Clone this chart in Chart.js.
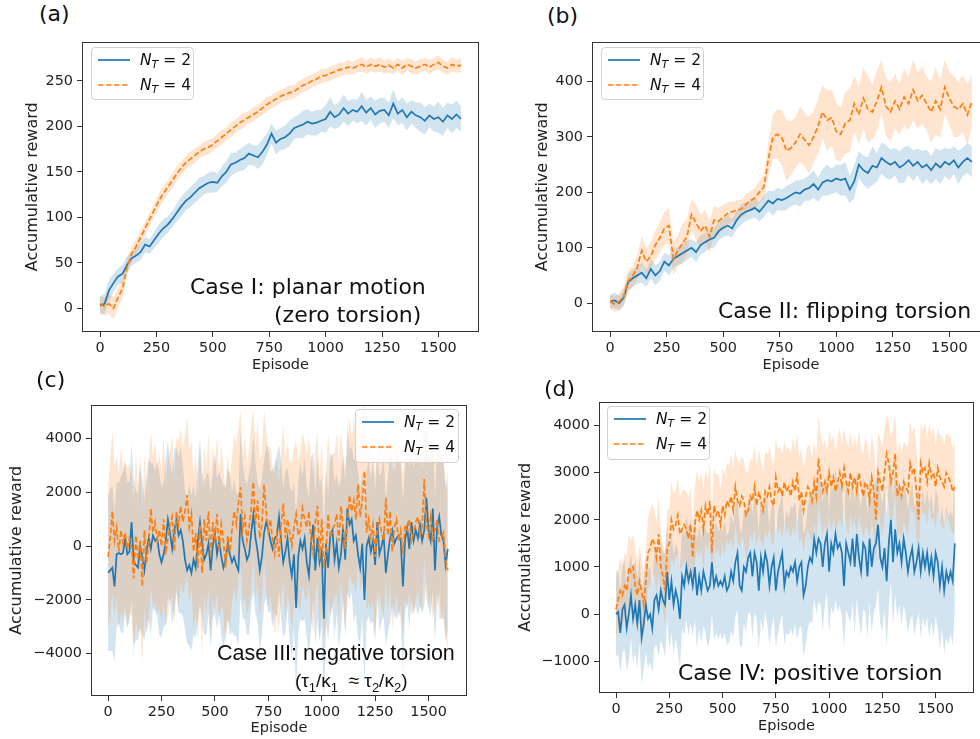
<!DOCTYPE html>
<html>
<head>
<meta charset="utf-8">
<script src="https://cdn.jsdelivr.net/npm/chart.js"></script>
<style>
  html, body { margin:0; padding:0; background:#fff; width:980px; height:739px; overflow:hidden; }
  body { position:relative; font-family:'DejaVu Sans', sans-serif; color:#111; }
  canvas { position:absolute; }
  .lbl { position:absolute; white-space:nowrap; line-height:26px; }
  .leg { position:absolute; box-sizing:border-box; border:1px solid #d0d0d0; border-radius:4px; background:rgba(255,255,255,0.85); }
  .leg .row { position:absolute; left:0; height:20px; }
  .leg svg { position:absolute; left:5px; top:0; }
  .leg .t { position:absolute; left:48px; top:0; line-height:20px; font-size:15.5px; white-space:nowrap; color:#111; }
  .leg .t i { font-style:italic; }
  .leg .t sub { font-size:11px; vertical-align:-3px; line-height:0; font-style:italic; }
</style>
</head>
<body>
<canvas id="ca" width="466" height="345" style="left:23px;top:29px"></canvas>
<canvas id="cb" width="467" height="345" style="left:533px;top:29px"></canvas>
<canvas id="cc" width="470" height="345" style="left:7px;top:392px"></canvas>
<canvas id="cd" width="468" height="346" style="left:516px;top:389px"></canvas>

<div class="lbl" style="left:39px;top:1px;font-size:22px">(a)</div>
<div class="lbl" style="left:547px;top:3px;font-size:22px">(b)</div>
<div class="lbl" style="left:36px;top:367px;font-size:22px">(c)</div>
<div class="lbl" style="left:544px;top:376px;font-size:22px">(d)</div>

<div class="lbl" style="left:190px;top:274px;font-size:22px">Case I: planar motion</div>
<div class="lbl" style="left:274px;top:302px;font-size:22px">(zero torsion)</div>
<div class="lbl" style="left:718px;top:298px;font-size:22px">Case II: flipping torsion</div>
<div class="lbl" style="left:217px;top:640px;font-size:21.5px;font-family:'Liberation Sans',sans-serif">Case III: negative torsion</div>
<div class="lbl" style="left:295px;top:668px;font-size:19px;font-family:'Liberation Sans',sans-serif">(τ<sub style="font-size:13px">1</sub>/κ<sub style="font-size:13px">1</sub>&nbsp; ≈ τ<sub style="font-size:13px">2</sub>/κ<sub style="font-size:13px">2</sub>)</div>
<div class="lbl" style="left:678px;top:660px;font-size:22px">Case IV: positive torsion</div>

<div id="legends"></div>

<script>
// ---------------- DATA ----------------
// episodes (x categories)
const episodesAB = Array.from({length: 81}, (_, i) => i * 20);   // 0..1600
const episodesCD = Array.from({length: 160}, (_, i) => i * 10);  // 0..1590
const seriesNames = ['N_T = 2', 'N_T = 4'];

const xTickValues = [0, 250, 500, 750, 1000, 1250, 1500];
const yTicksA = [0, 50, 100, 150, 200, 250];
const yTicksB = [0, 100, 200, 300, 400];
const yTicksC = [-4000, -2000, 0, 2000, 4000];
const yTicksD = [-1000, 0, 1000, 2000, 3000, 4000];

// Panel (a) planar motion
const aMean2 = [3,5,20,28,35,38,48,55,58,62,
  70,68,75,82,88,92,98,105,112,118,
  122,127,132,135,138,139,138,145,150,158,
  160,163,165,170,168,166,172,180,192,182,
  186,188,192,198,200,202,205,203,204,206,
  208,216,210,213,220,214,218,216,222,215,
  220,213,217,218,212,225,214,218,210,216,
  212,210,206,212,208,210,205,212,208,213,
  208];
const aSd2 = [10,11,12,10,9,10,9,8,8,9,
  9,8,9,10,10,9,9,10,11,10,
  11,11,12,10,11,12,10,11,12,13,
  11,12,13,12,11,13,14,12,11,13,
  12,13,14,12,13,15,14,13,14,12,
  15,16,13,14,15,14,12,13,16,14,
  13,15,14,13,14,16,13,14,15,13,
  14,16,15,13,14,17,15,14,16,15,
  14];
const aMean4 = [5,2,5,0,12,22,45,60,68,78,
  88,98,108,118,126,133,140,148,154,160,
  164,168,172,175,177,180,184,188,192,196,
  200,204,207,210,213,216,220,224,227,230,
  233,235,237,238,242,245,247,250,252,255,
  256,258,260,262,263,265,264,266,268,265,
  268,266,268,265,267,264,268,264,268,266,
  264,266,268,265,268,270,266,264,268,266,
  267];
const aSd4 = [9,10,11,12,11,10,9,8,8,8,
  8,7,7,8,8,7,8,8,7,8,
  8,8,7,8,8,7,8,8,7,8,
  7,8,8,7,8,7,8,8,7,8,
  7,7,8,7,8,7,8,7,7,8,
  7,8,7,8,7,8,7,7,8,7,
  8,7,8,7,8,7,7,8,7,8,
  7,8,7,8,7,8,7,7,8,7,
  8];

// Panel (b) flipping torsion
const bMean2 = [3,5,0,10,38,45,50,55,45,62,
  50,58,75,68,80,85,90,95,100,92,
  105,110,115,118,130,136,140,135,150,160,
  165,168,172,165,175,185,180,188,186,190,
  195,200,198,205,208,215,205,218,222,220,
  225,222,225,205,220,250,240,235,248,245,
  262,255,250,255,245,250,258,248,255,245,
  250,240,252,245,255,250,258,245,255,262,
  255];
const bSd2 = [12,14,13,14,15,16,15,18,16,17,
  18,17,16,18,17,16,18,17,16,18,
  17,17,16,18,17,16,18,17,16,18,
  17,16,18,17,20,18,22,20,19,22,
  20,22,24,20,23,25,22,24,28,23,
  25,28,30,25,30,24,26,28,35,26,
  28,30,27,25,29,32,26,28,24,30,
  27,25,28,30,26,28,25,30,26,27,
  28];
const bMean4 = [3,-2,3,12,40,48,65,95,75,85,
  105,118,135,140,80,95,108,120,160,145,
  130,140,120,150,148,155,162,165,168,170,
  178,185,190,200,210,260,300,305,298,275,
  280,290,305,295,285,300,320,345,330,335,
  310,305,325,330,360,340,370,350,345,365,
  390,355,345,365,350,372,360,385,365,375,
  360,345,365,350,390,370,355,350,360,340,
  365];
const bSd4 = [12,14,15,18,20,18,22,26,24,25,
  26,28,30,32,30,28,35,30,28,32,
  30,28,30,26,24,22,20,18,18,16,
  18,17,18,20,22,30,40,45,50,55,
  48,45,50,48,52,46,50,48,55,50,
  52,48,55,58,50,52,55,60,50,55,
  48,52,55,50,45,52,48,55,50,52,
  48,55,60,52,50,48,55,50,52,55,
  48];

// Panel (c) negative torsion
const cMean2 = [-1000,-900,-800,-1500,-300,-250,-300,-250,300,-300,
  -200,900,-600,-700,-800,0,-400,-900,-200,300,
  -100,400,200,300,-300,-600,-300,200,1000,500,
  -100,600,1000,400,600,200,-500,-900,-700,-1000,
  -500,-800,200,900,100,-500,-300,100,-900,0,
  500,-300,200,-400,-800,-500,100,-300,-600,-400,
  -700,-900,1200,200,-100,-500,-300,500,1200,300,
  -200,-900,-400,500,900,600,200,-100,300,400,
  1100,200,-600,-200,300,-600,-1100,-300,-2300,-400,
  200,-100,300,-600,-1100,100,800,-900,300,-600,
  -200,-2700,100,-800,400,600,-500,100,-800,-300,
  700,-500,1400,800,1000,200,400,-300,-800,100,
  -2000,0,300,-200,200,-700,900,-300,0,400,
  -1000,-300,300,600,100,300,400,200,-1500,200,
  700,-100,900,200,600,300,800,200,600,1800,
  600,200,1400,-900,700,1100,400,200,-700,-100];
const cSd2 = [2900,3000,3100,2800,2700,2600,2900,3000,2800,2700,
  2600,2900,3100,2800,2700,3000,2900,2600,2800,3000,
  3200,2700,2600,2900,3000,2800,2700,3100,2900,2600,
  2800,3000,2700,2900,3100,2800,2600,2700,3000,2900,
  2800,2600,2900,3100,2700,2800,3000,2600,2900,2700,
  3000,2800,2600,2900,3100,2700,2800,3000,2600,2900,
  2700,2800,3100,2900,2600,2800,3000,2700,2900,2800,
  2600,3000,2900,2700,2800,3100,2600,2900,2800,3000,
  2700,2900,2800,3000,2600,2900,3100,2700,3300,2800,
  2900,2700,3000,2800,2900,3200,2700,2800,3000,2900,
  2800,3400,2900,2700,3000,2800,2900,2600,3000,2800,
  2700,2900,3100,2800,2700,3000,2900,3100,2800,2700,
  3300,2800,2900,2700,3000,2800,2600,2900,2800,3000,
  2700,2900,3100,2800,2700,3000,2800,2900,3200,2700,
  2800,3000,2900,2700,2800,2900,3000,2700,2800,3100,
  2900,2800,3000,2700,2900,2800,3100,2900,2800,3000];
const cMean4 = [-400,300,1300,200,700,-200,600,100,500,-100,
  300,0,-1200,400,-500,200,-1500,600,-600,100,
  1400,500,900,200,600,0,1000,-300,300,800,
  1100,-200,1300,800,1500,900,1300,1900,700,1200,
  -200,500,-800,800,-1000,1000,200,1300,-400,900,
  300,1200,-200,800,200,-800,400,-200,600,1300,
  800,1600,2200,600,1100,200,700,1400,2400,800,
  1700,300,800,2300,1300,600,1000,200,-300,400,
  -400,800,1600,300,1000,500,0,700,1200,400,
  600,1400,1000,700,1300,200,-300,900,1500,-500,
  1000,-800,-200,1200,300,600,800,1200,200,1500,
  700,-100,800,1900,1300,1700,1000,2300,1100,1700,
  2800,500,1000,300,800,-400,600,1000,500,200,
  1800,400,1300,-200,700,1000,200,600,-300,800,
  600,1000,200,500,900,1100,400,700,2500,800,
  400,1100,300,600,1000,200,300,500,-500,-900];
const cSd4 = [2700,2900,3000,2800,2600,2900,3100,2800,2700,3000,
  2800,2600,2900,3100,2700,3300,2800,2900,2700,3000,
  2900,2800,3000,2700,2900,2800,3100,2700,2900,2800,
  3000,2700,2800,3100,2900,2700,2800,3000,2900,2700,
  2800,3000,2700,2900,3100,2800,2700,2900,3000,2800,
  2700,2900,2800,3000,2700,2900,3100,2800,2700,2900,
  3000,2800,2900,2700,3000,2800,2900,3100,2700,2800,
  3000,2900,2700,2800,3000,2900,2800,2700,3000,2900,
  2800,2700,2900,3000,2800,2700,3100,2900,2800,2700,
  3000,2800,2900,2700,2800,3000,2900,2700,2800,3000,
  2900,2700,2800,3000,2900,2800,2700,3000,2900,2800,
  2700,3000,2800,2900,2700,3100,2800,2900,2700,3000,
  2800,2900,3100,2700,2800,3000,2900,2700,2800,2900,
  3000,2800,2700,2900,3000,2800,2900,2700,3000,2800,
  2900,2700,2800,3000,2900,2800,2700,3000,2900,2800,
  2700,2900,3000,2800,2700,2900,3000,2800,2900,3000];

// Panel (d) positive torsion
const dMean2 = [0,50,-400,100,200,-300,0,400,-100,200,
  -200,300,-500,-200,200,-100,0,-300,300,400,
  100,500,300,200,900,300,700,200,500,300,
  -100,800,600,1000,700,900,600,1000,400,800,
  500,900,700,500,600,1100,600,800,600,700,
  600,800,500,600,900,700,1100,1300,600,500,
  1000,900,1200,1300,800,1300,1100,500,1200,900,
  1300,1100,600,1000,1200,500,900,1100,1300,600,
  900,800,1000,900,1100,700,1000,1100,400,600,
  1000,1200,1100,1600,1300,1600,1500,1000,1500,1700,
  900,1500,1300,1700,1400,1500,1300,600,1500,1300,
  1100,1600,1000,1700,1200,900,1500,1400,800,1600,
  1000,1400,1500,1900,1200,1000,1400,700,1500,2000,
  1100,1800,1300,1500,1100,1600,1300,900,1200,1400,
  900,1100,1400,900,1300,1000,1300,900,1200,800,
  1300,1100,600,1000,500,900,700,900,700,1500];
const dSd2 = [900,900,850,900,950,900,1000,900,950,1000,
  950,900,1000,950,1000,1050,1000,950,1000,1050,
  1000,1050,1000,1100,1000,1050,1100,1050,1000,1100,
  1050,1100,1050,1100,1150,1100,1050,1100,1150,1100,
  1100,1150,1100,1200,1150,1100,1150,1200,1150,1100,
  1150,1200,1150,1200,1250,1200,1150,1200,1250,1200,
  1200,1250,1200,1250,1300,1250,1200,1250,1300,1250,
  1250,1300,1250,1300,1250,1200,1300,1250,1300,1250,
  1300,1250,1300,1350,1300,1250,1300,1350,1300,1250,
  1300,1350,1300,1250,1300,1350,1300,1350,1300,1250,
  1300,1350,1300,1400,1350,1300,1350,1300,1400,1350,
  1300,1350,1400,1350,1300,1350,1400,1350,1300,1350,
  1400,1350,1300,1350,1400,1350,1300,1400,1350,1300,
  1350,1400,1350,1300,1350,1400,1350,1300,1350,1400,
  1350,1300,1350,1400,1350,1300,1350,1400,1350,1300,
  1350,1400,1350,1300,1350,1400,1350,1300,1350,1400];
const dMean4 = [100,300,500,400,600,500,1000,900,1000,600,
  400,700,500,200,700,1300,1400,1600,1500,1200,
  1700,1000,800,500,1400,1500,2000,1800,1900,2100,
  1700,1800,1900,1800,1600,1900,1200,1900,2200,2000,
  2200,1800,2300,2100,2400,1300,2300,2100,2200,1900,
  2300,2100,2400,2300,2500,2200,2700,2400,2300,2500,
  2400,2100,2200,2500,2400,2700,2300,2600,2400,2200,
  2600,2500,2700,2400,2300,2900,2600,2700,2500,2800,
  2600,2700,2500,2800,2600,3000,2400,2600,2200,2500,
  2700,2600,2400,2800,2500,3300,2900,2600,2800,2600,
  3000,2700,2900,2600,2800,3000,2700,3100,2800,2600,
  3000,2700,2900,2600,3000,2700,2500,2800,2700,2400,
  2900,2600,2000,3000,2800,2600,3000,3400,3200,2800,
  3000,3400,2500,2700,2500,2800,2700,2600,3200,3000,
  3100,2600,2000,3200,3000,3100,2800,3200,2900,3000,
  2700,3100,2900,2800,2700,3000,2900,2800,2600,2700];
const dSd4 = [600,650,700,650,700,750,700,650,700,750,
  700,750,700,650,700,750,800,750,700,750,
  800,750,700,750,800,750,800,750,700,800,
  750,800,750,800,850,800,750,800,850,800,
  800,850,800,750,800,850,800,850,800,750,
  800,850,800,850,900,850,800,850,900,850,
  850,900,850,800,850,900,850,900,850,800,
  850,900,850,900,850,800,900,850,900,850,
  900,850,900,950,900,850,900,950,900,850,
  900,950,900,850,900,950,900,950,900,850,
  900,950,900,850,900,950,900,850,900,950,
  900,850,900,950,900,850,900,950,900,850,
  900,950,900,850,900,950,900,850,900,950,
  900,850,900,950,900,850,900,950,900,850,
  900,950,900,850,900,950,900,850,900,950,
  900,850,900,950,900,850,900,950,900,950];

// ---------------- STYLE / LAYOUT ----------------
const BLUE = '#1f77b4', ORANGE = '#ff7f0e';
const BLUE_FILL = 'rgba(31,119,180,0.2)', ORANGE_FILL = 'rgba(255,127,14,0.2)';
const AXIS_COLOR = '#333';

Chart.defaults.font.family = "'DejaVu Sans', sans-serif";
Chart.defaults.color = '#222';

const framePlugin = {
  id: 'frame',
  afterDatasetsDraw(chart) {
    const {ctx, chartArea: a} = chart;
    ctx.save();
    ctx.strokeStyle = AXIS_COLOR;
    ctx.lineWidth = 1;
    ctx.strokeRect(Math.round(a.left) + 0.5, Math.round(a.top) + 0.5,
                   Math.round(a.right - a.left) - 1, Math.round(a.bottom - a.top) - 1);
    ctx.restore();
  }
};

function pts(xs, ys) { return xs.map((x, i) => ({x, y: ys[i]})); }
function lo(m, s) { return m.map((v, i) => v - s[i]); }
function hi(m, s) { return m.map((v, i) => v + s[i]); }
function fmt(v) { return v < 0 ? '\u2212' + Math.abs(v) : String(v); }

function makePanel(id, eps, m2, s2, m4, s4, yMin, yMax, yTicks, lay) {
  const ctx = document.getElementById(id);
  return new Chart(ctx, {
    type: 'line',
    data: {
      datasets: [
        {data: pts(eps, lo(m2, s2)), borderColor: 'transparent', borderWidth: 0, pointRadius: 0, fill: false, order: 5},
        {data: pts(eps, hi(m2, s2)), borderColor: 'transparent', borderWidth: 0, pointRadius: 0, fill: '-1', backgroundColor: BLUE_FILL, order: 5},
        {data: pts(eps, lo(m4, s4)), borderColor: 'transparent', borderWidth: 0, pointRadius: 0, fill: false, order: 4},
        {data: pts(eps, hi(m4, s4)), borderColor: 'transparent', borderWidth: 0, pointRadius: 0, fill: '-1', backgroundColor: ORANGE_FILL, order: 4},
        {label: seriesNames[0], data: pts(eps, m2), borderColor: BLUE, borderWidth: 1.7, pointRadius: 0, fill: false, tension: 0, order: 2},
        {label: seriesNames[1], data: pts(eps, m4), borderColor: ORANGE, borderWidth: 1.7, borderDash: [5.5, 2.5], pointRadius: 0, fill: false, tension: 0, order: 1}
      ]
    },
    options: {
      responsive: false,
      animation: false,
      events: [],
      layout: {padding: {left: 0, top: 10, right: 10, bottom: 0}},
      plugins: {legend: {display: false}, tooltip: {enabled: false}},
      scales: {
        x: {
          type: 'linear', min: -80, max: 1680,
          afterBuildTicks: s => { s.ticks = xTickValues.map(v => ({value: v})); },
          afterFit: s => { s.height = lay.bottom; },
          ticks: {font: {size: 14.4}, padding: 3, maxRotation: 0, autoSkip: false, callback: v => fmt(v)},
          grid: {display: true, drawOnChartArea: false, drawTicks: true, tickLength: 5, color: AXIS_COLOR},
          border: {display: false},
          title: {display: true, text: 'Episode', font: {size: 14.5}, padding: {top: 0, bottom: 0}}
        },
        y: {
          type: 'linear', min: yMin, max: yMax,
          afterBuildTicks: s => { s.ticks = yTicks.map(v => ({value: v})); },
          afterFit: s => { s.width = lay.left; },
          ticks: {font: {size: 14.4}, padding: 4, autoSkip: false, callback: v => fmt(v)},
          grid: {display: true, drawOnChartArea: false, drawTicks: true, tickLength: 5, color: AXIS_COLOR},
          border: {display: false},
          title: {display: true, text: 'Accumulative reward', font: {size: 16}, padding: {top: 0, bottom: 0}}
        }
      }
    },
    plugins: [framePlugin]
  });
}

makePanel('ca', episodesAB, aMean2, aSd2, aMean4, aSd4, -26, 293, yTicksA, {left: 59, bottom: 42});
makePanel('cb', episodesAB, bMean2, bSd2, bMean4, bSd4, -52, 472, yTicksB, {left: 59, bottom: 42});
makePanel('cc', episodesCD, cMean2, cSd2, cMean4, cSd4, -5576, 5270, yTicksC, {left: 84, bottom: 41});
makePanel('cd', episodesCD, dMean2, dSd2, dMean4, dSd4, -1671, 4505, yTicksD, {left: 83, bottom: 42});

// ---------------- LEGENDS ----------------
function legendHTML(name) {
  const [n, rest] = name.split('_');
  const [sub, ...tail] = rest.split(' ');
  return '<i>' + n + '</i><sub>' + sub + '</sub> ' + tail.join(' ');
}
const legendBoxes = [
  {left: 91, top: 47, w: 103, h: 53},
  {left: 601, top: 47, w: 103, h: 53},
  {left: 355, top: 409, w: 104, h: 54},
  {left: 607, top: 406, w: 103, h: 54}
];
const legRoot = document.getElementById('legends');
legendBoxes.forEach(b => {
  const d = document.createElement('div');
  d.className = 'leg';
  d.style.cssText = `left:${b.left}px;top:${b.top}px;width:${b.w}px;height:${b.h}px`;
  [[BLUE, '', 2], [ORANGE, '5.5 2.5', 27]].forEach((r, i) => {
    const row = document.createElement('div');
    row.className = 'row';
    row.style.top = r[2] + 'px';
    row.style.width = b.w + 'px';
    row.innerHTML = `<svg width="34" height="20"><line x1="1" y1="10" x2="33" y2="10" stroke="${r[0]}" stroke-width="1.7" ${r[1] ? `stroke-dasharray="${r[1]}"` : ''}/></svg><span class="t">${legendHTML(seriesNames[i])}</span>`;
    d.appendChild(row);
  });
  legRoot.appendChild(d);
});
</script>
</body>
</html>
